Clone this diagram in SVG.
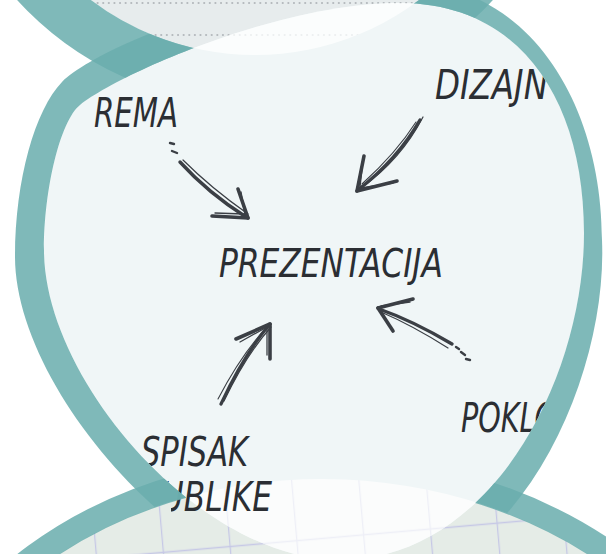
<svg xmlns="http://www.w3.org/2000/svg" width="606" height="554" viewBox="0 0 606 554">
<defs>
<style>
.ring{fill:#6aaeae;fill-opacity:.86}
.ringS{fill:none;stroke:#6aaeae;stroke-opacity:.86}
.lbl{font-family:"Liberation Sans Narrow","DejaVu Sans Condensed","Liberation Sans",sans-serif;font-style:italic;font-size:40px;fill:#2b2e33}
.arr{fill:none;stroke:#3b3f45;stroke-linecap:round;stroke-linejoin:round}
.dots{fill:none;stroke:#b3b8bc;stroke-width:2.2;stroke-linecap:round;stroke-dasharray:0.01 5.6}
.grid{fill:none;stroke:#c6c8e6;stroke-width:1.3}
</style>
<path id="mainInner" d="M400,3 C520,3 584,100 584,233 C584,380 490,560 340,560 C200,560 44,380 44,250 C44,190 60,121 80,105 C120,73 280,3 400,3Z"/>
<path id="botInner" d="M-89.6,796.7 A420,335 2.5 1,0 749.6,833.3 A420,335 2.5 1,0 -89.6,796.7Z"/>
<circle id="topInner" cx="255" cy="-217" r="272"/>
<clipPath id="cMain"><use href="#mainInner"/></clipPath>
<clipPath id="cTop"><use href="#topInner"/></clipPath>
<clipPath id="cBot"><use href="#botInner"/></clipPath>
<clipPath id="cText"><use href="#mainInner"/><rect x="171" y="478" width="435" height="76"/></clipPath>
<clipPath id="cNotMain"><path clip-rule="evenodd" d="M-20,-40 H630 V620 H-20Z M400,3 C520,3 584,100 584,233 C584,380 490,560 340,560 C200,560 44,380 44,250 C44,190 60,121 80,105 C120,73 280,3 400,3Z"/></clipPath>
<clipPath id="cNotTop"><path clip-rule="evenodd" d="M-20,-40 H630 V620 H-20Z M-17,-217 A272,272 0 1,0 527,-217 A272,272 0 1,0 -17,-217Z"/></clipPath>
<clipPath id="cNotBot"><path clip-rule="evenodd" d="M-20,-40 H630 V620 H-20Z M-89.6,796.7 A420,335 2.5 1,0 749.6,833.3 A420,335 2.5 1,0 -89.6,796.7Z"/></clipPath>
<pattern id="gridP" patternUnits="userSpaceOnUse" x="0" y="0" width="67" height="67" patternTransform="rotate(-5)">
<path class="grid" d="M47.6,0 V67 M0,28.5 H67"/>
</pattern>
<g id="dotRows">
<path class="dots" d="M92,3 H420 M150,35 H362"/>
</g>
</defs>
<rect width="606" height="554" fill="#ffffff"/>
<g id="shape-top-fill">
<use href="#topInner" fill="#e7eced"/>
<g clip-path="url(#cTop)"><use href="#dotRows"/></g>
</g>
<g id="shape-bottom-fill">
<use href="#botInner" fill="#e5ece7"/>
<g clip-path="url(#cBot)"><rect x="0" y="400" width="606" height="154" fill="url(#gridP)"/></g>
</g>
<g id="shape-main-fill">
<use href="#mainInner" fill="#f0f6f7"/>
</g>
<g id="lenses" clip-path="url(#cMain)">
<use href="#topInner" fill="#fbfdfd"/>
<g opacity="0.2" clip-path="url(#cTop)"><use href="#dotRows"/></g>
<use href="#botInner" fill="#fbfcfc"/>
<g opacity="0.25" clip-path="url(#cBot)"><rect x="0" y="400" width="606" height="154" fill="url(#gridP)"/></g>
</g>
<g id="nodes" clip-path="url(#cText)">
<g id="node-rema"><text class="lbl" x="94" y="127" textLength="84" lengthAdjust="spacingAndGlyphs">REMA</text></g>
<g id="node-dizajn"><text class="lbl" x="435" y="99" textLength="113" lengthAdjust="spacingAndGlyphs">DIZAJN</text></g>
<g id="node-prezentacija"><text class="lbl" x="219" y="277" textLength="224" lengthAdjust="spacingAndGlyphs" style="font-size:39px">PREZENTACIJA</text></g>
<g id="node-poklo"><text class="lbl" x="461" y="432" textLength="96" lengthAdjust="spacingAndGlyphs">POKLO</text></g>
<g id="node-spisak"><text class="lbl" x="141" y="466" textLength="107" lengthAdjust="spacingAndGlyphs">SPISAK</text><text class="lbl" x="142" y="511" textLength="130" lengthAdjust="spacingAndGlyphs">PUBLIKE</text></g>
</g>
<g id="rings">
<g clip-path="url(#cNotMain)">
<circle class="ringS" cx="255" cy="-217" r="297" stroke-width="50"/>
</g>
<g clip-path="url(#cNotMain)">
<ellipse class="ringS" cx="330" cy="815" rx="432.5" ry="347.5" stroke-width="25" transform="rotate(2.5 330 815)"/>
</g>
<g clip-path="url(#cNotTop)"><g clip-path="url(#cNotBot)">
<path class="ring" fill-rule="evenodd" d="M400,-18 C530,-18 602,105 602,240 C608,380 515,595 340,595 C190,590 15,390 15,257 C15,180 35,110 62,82 C100,45 260,-18 400,-18Z M400,3 C520,3 584,100 584,233 C584,380 490,560 340,560 C200,560 44,380 44,250 C44,190 60,121 80,105 C120,73 280,3 400,3Z"/>
</g></g>
</g>
<g id="connectors">
<g id="arrow-rema">
<path class="arr" stroke-width="2.4" d="M170,143 L174,144 M172,151 L177,153"/>
<path class="arr" stroke-width="3.4" d="M180,162 C200,184 224,203 246,217"/>
<path class="arr" stroke-width="1.2" d="M183,160 C204,181 228,200 248,214"/>
<path class="arr" stroke-width="3.6" d="M248,218 L238,189"/>
<path class="arr" stroke-width="1.4" d="M245,215 L241,192"/>
<path class="arr" stroke-width="3.6" d="M248,218 L212,216"/>
<path class="arr" stroke-width="1.3" d="M244,214 L215,213"/>
</g>
<g id="arrow-dizajn">
<path class="arr" stroke-width="3.4" d="M420,120 C404,148 381,172 358,190"/>
<path class="arr" stroke-width="1.2" d="M423,117 C408,146 385,171 361,188"/>
<path class="arr" stroke-width="1.1" d="M416,122 C402,144 383,165 362,184"/>
<path class="arr" stroke-width="3.6" d="M357,191 L364,156"/>
<path class="arr" stroke-width="1.3" d="M360,187 L363,160"/>
<path class="arr" stroke-width="3.6" d="M357,191 L397,181"/>
<path class="arr" stroke-width="1.3" d="M361,188 L393,183"/>
</g>
<g id="arrow-spisak">
<path class="arr" stroke-width="3.2" d="M221,404 C234,376 250,348 269,325"/>
<path class="arr" stroke-width="1.2" d="M224,401 C238,372 254,346 271,327"/>
<path class="arr" stroke-width="1.1" d="M218,399 C232,372 246,350 265,329"/>
<path class="arr" stroke-width="3.6" d="M270,324 L236,339"/>
<path class="arr" stroke-width="1.3" d="M267,327 L240,342"/>
<path class="arr" stroke-width="3.6" d="M270,324 L270,359"/>
<path class="arr" stroke-width="1.3" d="M267,328 L267,355"/>
</g>
<g id="arrow-poklo">
<path class="arr" stroke-width="3.4" d="M452,344 C430,331 405,318 379,309"/>
<path class="arr" stroke-width="1.2" d="M448,348 C426,334 402,321 381,312"/>
<path class="arr" stroke-width="2.4" d="M456,347 L459,349 M461,352 L465,355 M466,359 L470,360"/>
<path class="arr" stroke-width="3.6" d="M378,308 L413,299"/>
<path class="arr" stroke-width="1.3" d="M381,306 L410,302"/>
<path class="arr" stroke-width="3.6" d="M378,308 L393,331"/>
<path class="arr" stroke-width="1.3" d="M381,311 L391,328"/>
</g>
</g>
</svg>
